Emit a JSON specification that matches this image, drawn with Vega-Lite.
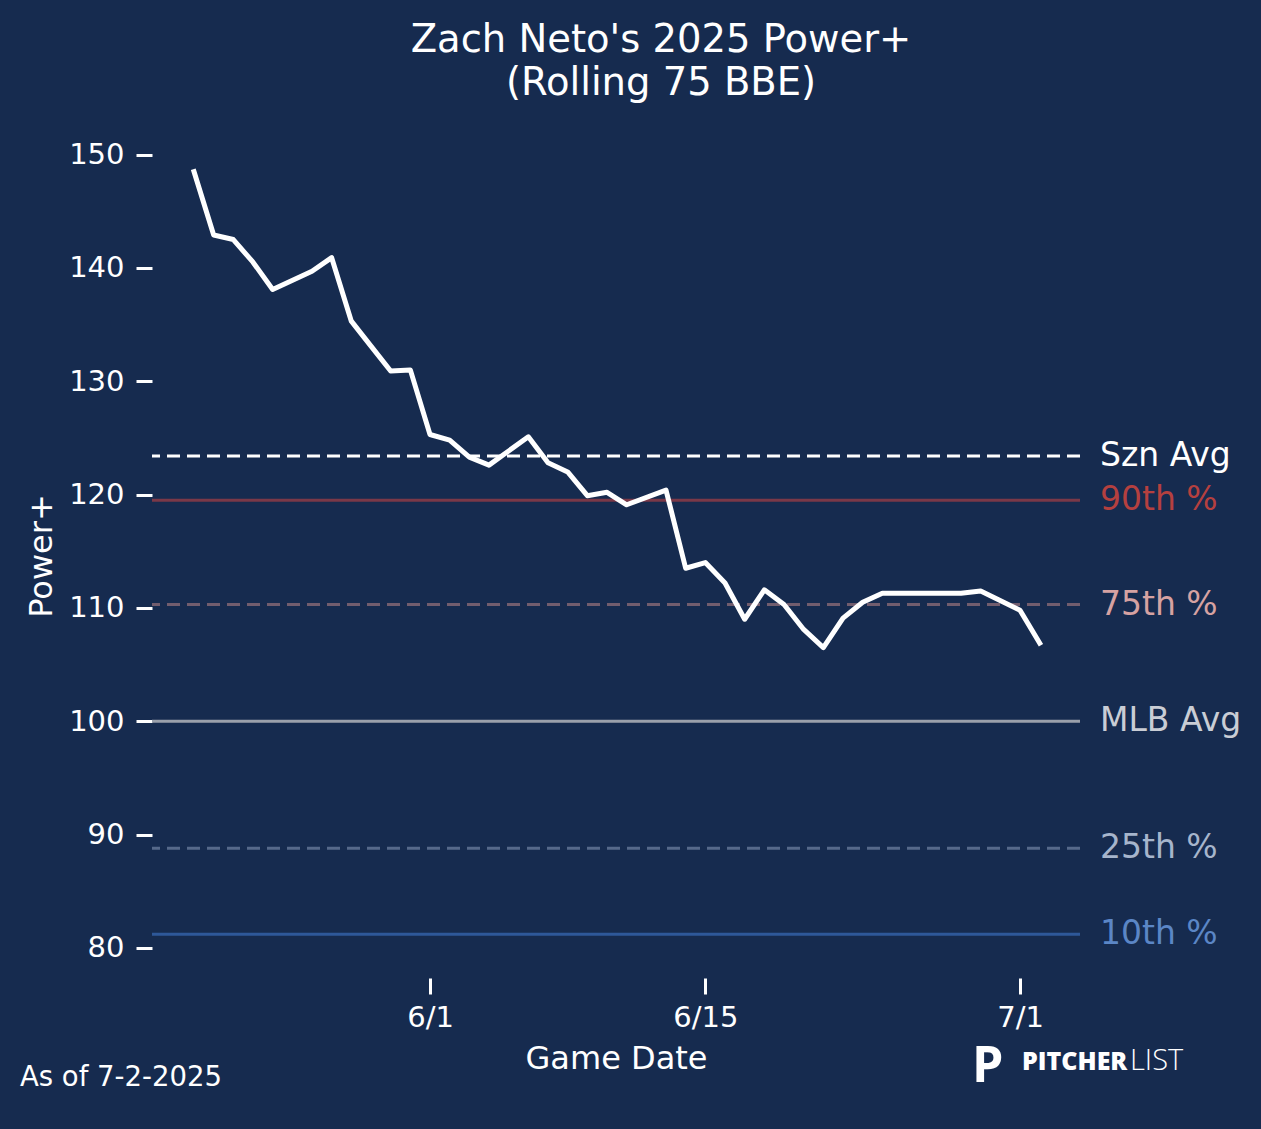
{
  "$schema": "https://vega.github.io/schema/vega-lite/v6.json",
  "description": "Zach Neto 2025 Power+ rolling 75 BBE",
  "width": 928,
  "height": 845,
  "autosize": {"type": "none"},
  "padding": {"left": 152, "top": 133, "right": 181, "bottom": 151},
  "background": "#162b4f",
  "title": {
    "text": ["Zach Neto's 2025 Power+", "(Rolling 75 BBE)"],
    "font": "DejaVu Sans",
    "fontSize": 38.5,
    "fontWeight": "normal",
    "color": "white",
    "lineHeight": 43,
    "anchor": "middle",
    "dx": 45,
    "offset": 30
  },
  "datasets": {
    "rolling": [
      {"date": "2025-05-20T00:00:00", "power": 148.5},
      {"date": "2025-05-21T00:00:00", "power": 142.9},
      {"date": "2025-05-22T00:00:00", "power": 142.5},
      {"date": "2025-05-23T00:00:00", "power": 140.5},
      {"date": "2025-05-24T00:00:00", "power": 138.1},
      {"date": "2025-05-26T00:00:00", "power": 139.7},
      {"date": "2025-05-27T00:00:00", "power": 140.9},
      {"date": "2025-05-28T00:00:00", "power": 135.3},
      {"date": "2025-05-29T00:00:00", "power": 133.1},
      {"date": "2025-05-30T00:00:00", "power": 130.9},
      {"date": "2025-05-31T00:00:00", "power": 131.0},
      {"date": "2025-06-01T00:00:00", "power": 125.3},
      {"date": "2025-06-02T00:00:00", "power": 124.8},
      {"date": "2025-06-03T00:00:00", "power": 123.3},
      {"date": "2025-06-04T00:00:00", "power": 122.6},
      {"date": "2025-06-06T00:00:00", "power": 125.1},
      {"date": "2025-06-07T00:00:00", "power": 122.8},
      {"date": "2025-06-08T00:00:00", "power": 122.0},
      {"date": "2025-06-09T00:00:00", "power": 119.9},
      {"date": "2025-06-10T00:00:00", "power": 120.2},
      {"date": "2025-06-11T00:00:00", "power": 119.1},
      {"date": "2025-06-13T00:00:00", "power": 120.4},
      {"date": "2025-06-14T00:00:00", "power": 113.5},
      {"date": "2025-06-15T00:00:00", "power": 114.0},
      {"date": "2025-06-16T00:00:00", "power": 112.2},
      {"date": "2025-06-17T00:00:00", "power": 109.0},
      {"date": "2025-06-18T00:00:00", "power": 111.6},
      {"date": "2025-06-19T00:00:00", "power": 110.3},
      {"date": "2025-06-20T00:00:00", "power": 108.1},
      {"date": "2025-06-21T00:00:00", "power": 106.5},
      {"date": "2025-06-22T00:00:00", "power": 109.1},
      {"date": "2025-06-23T00:00:00", "power": 110.5},
      {"date": "2025-06-24T00:00:00", "power": 111.3},
      {"date": "2025-06-28T00:00:00", "power": 111.3},
      {"date": "2025-06-29T00:00:00", "power": 111.5},
      {"date": "2025-07-01T00:00:00", "power": 109.8},
      {"date": "2025-07-02T00:00:00", "power": 106.9}
    ],
    "refs": [
      {"label": "Szn Avg", "value": 123.4},
      {"label": "90th %", "value": 119.5},
      {"label": "75th %", "value": 110.3},
      {"label": "MLB Avg", "value": 100},
      {"label": "25th %", "value": 88.8},
      {"label": "10th %", "value": 81.2}
    ]
  },
  "resolve": {"scale": {"color": "independent"}},
  "layer": [
    {
      "data": {"name": "refs"},
      "mark": {"type": "rule", "strokeWidth": 3},
      "encoding": {
        "y": {"field": "value", "type": "quantitative"},
        "color": {
          "field": "label",
          "type": "nominal",
          "legend": null,
          "scale": {
            "domain": ["Szn Avg", "90th %", "75th %", "MLB Avg", "25th %", "10th %"],
            "range": ["#ffffff", "#7a3848", "#725d6e", "#9aa0ab", "#56698a", "#2e5899"]
          }
        },
        "strokeDash": {
          "field": "label",
          "type": "nominal",
          "legend": null,
          "scale": {
            "domain": ["Szn Avg", "90th %", "75th %", "MLB Avg", "25th %", "10th %"],
            "range": [[13, 7], [1, 0], [13, 7], [1, 0], [13, 7], [1, 0]]
          }
        }
      }
    },
    {
      "data": {"name": "refs"},
      "mark": {"type": "text", "align": "left", "baseline": "middle", "dx": 20, "font": "DejaVu Sans", "fontSize": 33},
      "encoding": {
        "x": {"datum": {"year": 2025, "month": 7, "date": 4, "hours": 1, "minutes": 12}, "type": "temporal"},
        "y": {"field": "value", "type": "quantitative"},
        "text": {"field": "label"},
        "color": {
          "field": "label",
          "type": "nominal",
          "legend": null,
          "scale": {
            "domain": ["Szn Avg", "90th %", "75th %", "MLB Avg", "25th %", "10th %"],
            "range": ["#ffffff", "#b5403f", "#d6a2a2", "#c9cdd5", "#a6b5cc", "#5b86c6"]
          }
        }
      }
    },
    {
      "data": {"name": "rolling"},
      "mark": {"type": "line", "color": "white", "strokeWidth": 5, "strokeJoin": "round", "strokeCap": "square"},
      "encoding": {
        "x": {
          "field": "date",
          "type": "temporal",
          "scale": {
            "domain": [
              {"year": 2025, "month": 5, "date": 17, "hours": 20, "minutes": 45},
              {"year": 2025, "month": 7, "date": 4, "hours": 1, "minutes": 12}
            ]
          },
          "axis": {
            "title": "Game Date",
            "values": [
              {"year": 2025, "month": 6, "date": 1},
              {"year": 2025, "month": 6, "date": 15},
              {"year": 2025, "month": 7, "date": 1}
            ],
            "format": "%-m/%-d",
            "formatType": "time",
            "labelPadding": 9,
            "titlePadding": 11
          }
        },
        "y": {
          "field": "power",
          "type": "quantitative",
          "scale": {"domain": [77.35, 151.9], "nice": false, "zero": false},
          "axis": {
            "title": "Power+",
            "values": [80, 90, 100, 110, 120, 130, 140, 150],
            "labelPadding": 12,
            "titlePadding": 10
          }
        }
      }
    },
    {
      "data": {"values": [{}]},
      "mark": {"type": "text", "text": "As of 7-2-2025", "align": "left", "baseline": "alphabetic", "font": "DejaVu Sans", "fontSize": 27.5, "color": "white"},
      "encoding": {
        "x": {"datum": {"year": 2025, "month": 5, "date": 11, "hours": 3, "minutes": 36}, "type": "temporal"},
        "y": {"datum": 67.83, "type": "quantitative"}
      }
    },
    {
      "data": {"values": [{}]},
      "mark": {"type": "text", "text": "P", "align": "left", "baseline": "alphabetic", "font": "Open Sans", "fontWeight": "bold", "fontSize": 50, "color": "white"},
      "encoding": {
        "x": {"datum": {"year": 2025, "month": 6, "date": 28, "hours": 13, "minutes": 26}, "type": "temporal"},
        "y": {"datum": 68.2, "type": "quantitative"}
      }
    },
    {
      "data": {"values": [{}]},
      "mark": {"type": "text", "text": "PITCHER", "align": "left", "baseline": "alphabetic", "font": "Open Sans", "fontWeight": 800, "fontSize": 25, "color": "white"},
      "encoding": {
        "x": {"datum": {"year": 2025, "month": 7, "date": 1, "hours": 2, "minutes": 24}, "type": "temporal"},
        "y": {"datum": 69.24, "type": "quantitative"}
      }
    },
    {
      "data": {"values": [{}]},
      "mark": {"type": "text", "text": "LIST", "align": "left", "baseline": "alphabetic", "font": "Open Sans", "fontWeight": 300, "fontSize": 29, "color": "white"},
      "encoding": {
        "x": {"datum": {"year": 2025, "month": 7, "date": 6, "hours": 14, "minutes": 10}, "type": "temporal"},
        "y": {"datum": 69.24, "type": "quantitative"}
      }
    }
  ],
  "config": {
    "view": {"stroke": null},
    "font": "DejaVu Sans",
    "axis": {
      "grid": false,
      "domain": false,
      "tickColor": "white",
      "tickSize": 16,
      "tickWidth": 3,
      "labelColor": "white",
      "labelFont": "DejaVu Sans",
      "labelFontSize": 29,
      "labelFlush": false,
      "labelOverlap": false,
      "titleColor": "white",
      "titleFont": "DejaVu Sans",
      "titleFontSize": 32,
      "titleFontWeight": "normal"
    }
  }
}
